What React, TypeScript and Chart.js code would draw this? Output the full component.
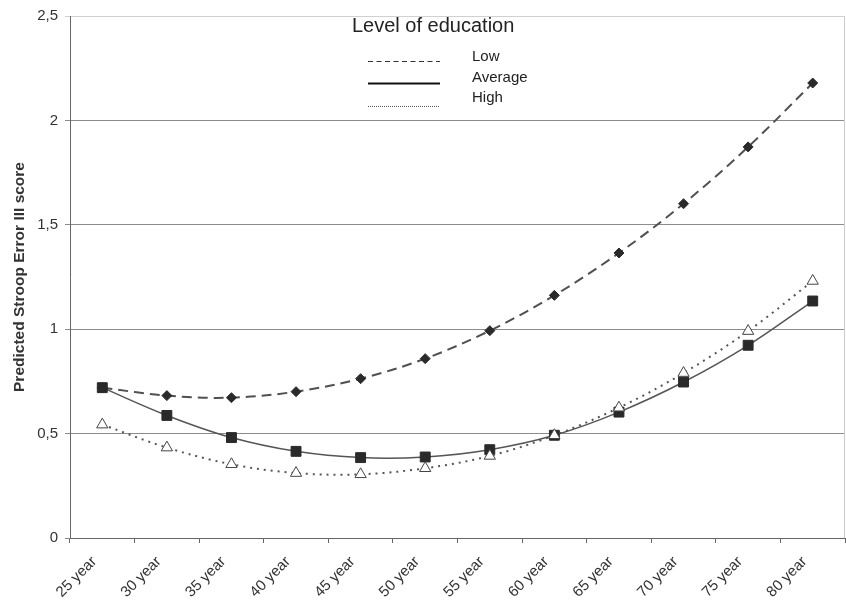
import React, { useEffect, useRef } from 'react';
import { Chart, registerables } from 'chart.js';

Chart.register(...registerables);

const categories = ['25 year', '30 year', '35 year', '40 year', '45 year', '50 year', '55 year', '60 year', '65 year', '70 year', '75 year', '80 year'];
const lowValues = [0.72, 0.682, 0.672, 0.701, 0.763, 0.859, 0.993, 1.162, 1.365, 1.601, 1.873, 2.179];
const averageValues = [0.72, 0.587, 0.481, 0.415, 0.385, 0.388, 0.423, 0.492, 0.603, 0.747, 0.923, 1.135];
const highValues = [0.543, 0.433, 0.353, 0.311, 0.305, 0.334, 0.393, 0.492, 0.624, 0.79, 0.991, 1.231];
const yTicks = [0, 0.5, 1, 1.5, 2, 2.5];
const seriesNames = ['Low', 'Average', 'High'];
const legendTitle = 'Level of education';
const yAxisTitle = 'Predicted Stroop Error III score';

const FONT = '"Liberation Sans", Arial, Helvetica, sans-serif';

const legendPlugin = {
  id: 'eduLegend',
  afterDraw(chart: any) {
    const ctx = chart.ctx;
    const area = chart.chartArea;
    ctx.save();
    // right border of plot box
    ctx.strokeStyle = '#cccccc';
    ctx.lineWidth = 1;
    ctx.beginPath();
    ctx.moveTo(area.right - 0.5, area.top);
    ctx.lineTo(area.right - 0.5, area.bottom);
    ctx.stroke();

    ctx.fillStyle = '#222';
    ctx.textBaseline = 'alphabetic';
    ctx.textAlign = 'left';
    ctx.font = `20px ${FONT}`;
    ctx.fillText(legendTitle, 352, 32);

    const styles = [
      { dash: [5, 3.5], width: 1.2, color: '#333' },
      { dash: [], width: 2, color: '#111' },
      { dash: [1, 1], width: 1, color: '#555' },
    ];
    const lineYs = [61.5, 83.5, 106.5];
    const textYs = [61, 82, 102];
    ctx.font = `15px ${FONT}`;
    seriesNames.forEach((name, i) => {
      const s = styles[i];
      ctx.beginPath();
      ctx.setLineDash(s.dash);
      ctx.lineWidth = s.width;
      ctx.strokeStyle = s.color;
      ctx.moveTo(368, lineYs[i]);
      ctx.lineTo(440, lineYs[i]);
      ctx.stroke();
      ctx.setLineDash([]);
      ctx.fillStyle = '#222';
      ctx.fillText(name, 472, textYs[i]);
    });
    ctx.restore();
  },
};

export default function App() {
  const canvasRef = useRef<HTMLCanvasElement | null>(null);

  useEffect(() => {
    if (!canvasRef.current) return;
    const chart = new Chart(canvasRef.current, {
      type: 'line',
      data: {
        labels: categories,
        datasets: [
          {
            label: seriesNames[0],
            data: lowValues,
            borderColor: '#505050',
            borderWidth: 2,
            borderDash: [10, 6],
            tension: 0.35,
            pointStyle: 'rectRot',
            pointRadius: 5,
            pointBackgroundColor: '#2a2a2a',
            pointBorderColor: '#2a2a2a',
            pointBorderWidth: 1,
            order: 3,
          },
          {
            label: seriesNames[1],
            data: averageValues,
            borderColor: '#555555',
            borderWidth: 1.5,
            tension: 0.35,
            pointStyle: 'rect',
            pointRadius: 7,
            pointBackgroundColor: '#2a2a2a',
            pointBorderColor: '#2a2a2a',
            pointBorderWidth: 1,
            order: 2,
          },
          {
            label: seriesNames[2],
            data: highValues,
            borderColor: '#555555',
            borderWidth: 2,
            borderDash: [2, 5],
            tension: 0.35,
            pointStyle: 'triangle',
            pointRadius: 6.5,
            pointBackgroundColor: '#ffffff',
            pointBorderColor: '#444444',
            pointBorderWidth: 1,
            order: 1,
          },
        ],
      },
      options: {
        animation: false,
        responsive: true,
        maintainAspectRatio: false,
        layout: { autoPadding: false, padding: { top: 16, right: 1, left: 0, bottom: 0 } },
        plugins: {
          legend: { display: false },
          tooltip: { enabled: false },
        },
        scales: {
          x: {
            type: 'category',
            offset: true,
            grid: {
              display: true,
              drawOnChartArea: false,
              drawTicks: true,
              tickLength: 5,
              offset: true,
              color: '#666',
            },
            border: { display: true, color: '#666', width: 1 },
            ticks: {
              autoSkip: false,
              minRotation: 45,
              maxRotation: 45,
              padding: 10,
              labelOffset: -8,
              color: '#333',
              font: { family: FONT, size: 15 },
            },
            afterFit: (scale: any) => {
              scale.height = 65;
              scale.paddingLeft = 0;
              scale.paddingRight = 0;
            },
          },
          y: {
            min: 0,
            max: 2.5,
            afterBuildTicks: (scale: any) => {
              scale.ticks = yTicks.map((v) => ({ value: v }));
            },
            grid: {
              color: (c: any) => (c.tick && c.tick.value === 2.5 ? '#d0d0d0' : '#8c8c8c'),
              tickLength: 5,
              lineWidth: 1,
            },
            border: { display: true, color: '#666', width: 1 },
            ticks: {
              padding: 7,
              color: '#333',
              font: { family: FONT, size: 15 },
              callback: (v: any) => String(v).replace('.', ','),
            },
            title: {
              display: true,
              text: yAxisTitle,
              color: '#333',
              font: { family: FONT, size: 15.5, weight: 'bold' },
              padding: { top: 10, bottom: 0 },
            },
            afterFit: (scale: any) => {
              scale.width = 70;
            },
          },
        },
      },
      plugins: [legendPlugin],
    } as any);
    return () => chart.destroy();
  }, []);

  return (
    <div style={{ position: 'fixed', left: 0, top: 0, width: 846, height: 603, background: '#fff' }}>
      <canvas ref={canvasRef} />
    </div>
  );
}
